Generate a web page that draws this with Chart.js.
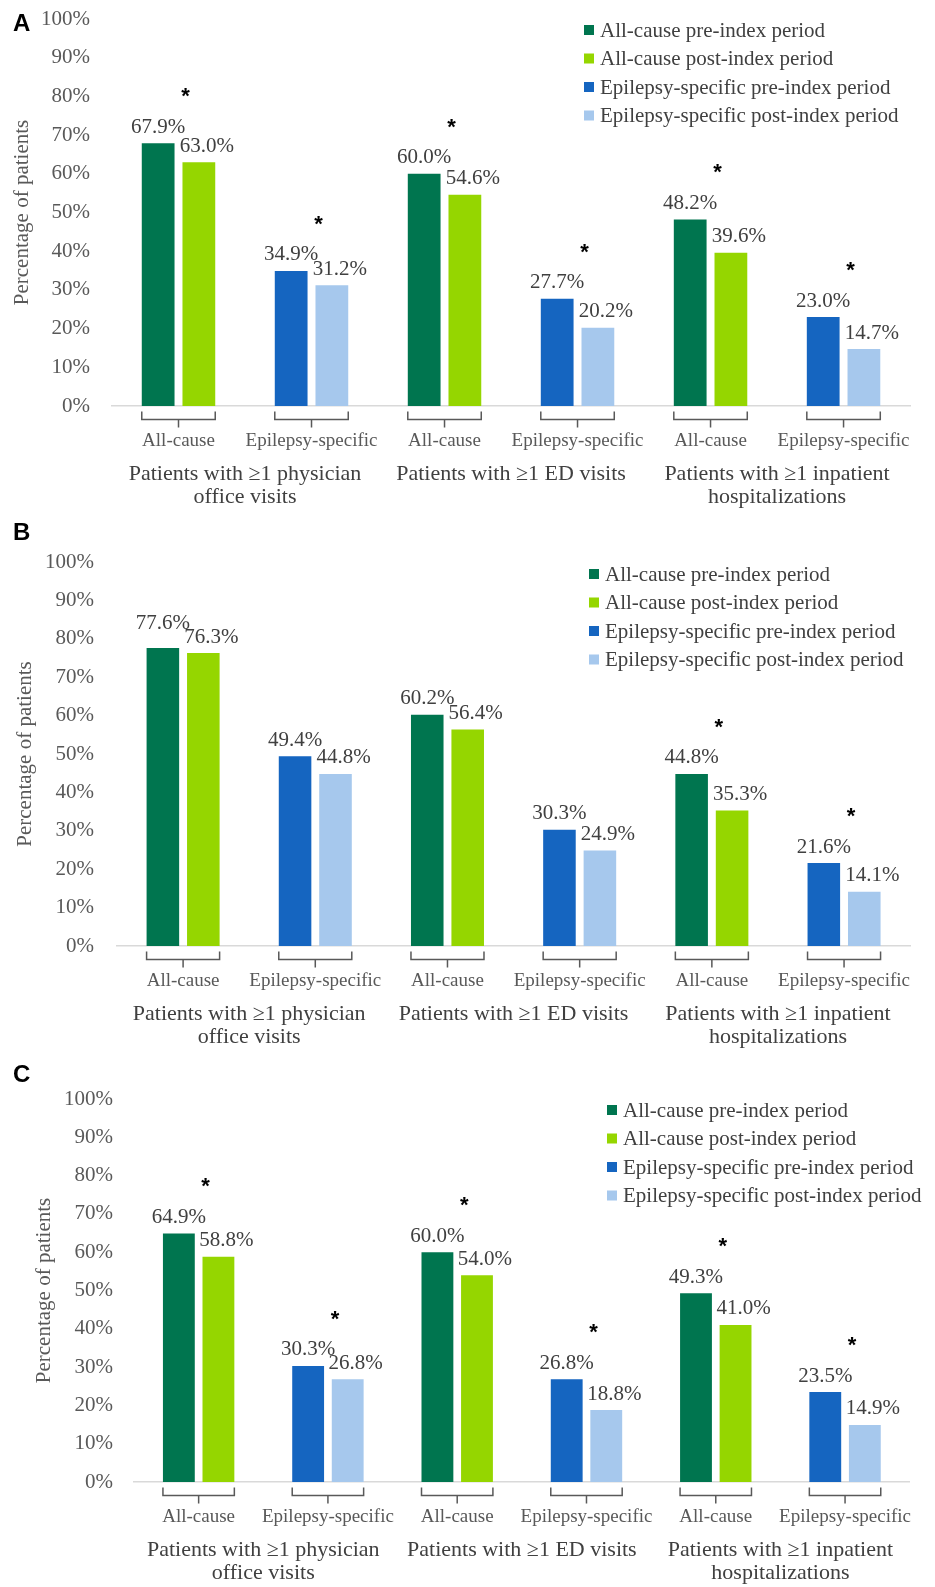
<!DOCTYPE html>
<html>
<head>
<meta charset="utf-8">
<script src="https://cdn.jsdelivr.net/npm/chart.js@4.4.0/dist/chart.umd.min.js"></script>
<style>
  html, body { margin: 0; padding: 0; background: #fff; overflow: hidden; }
  .panel { position: absolute; left: 0; width: 935px; }
  canvas { display: block; }
</style>
</head>
<body>
<div class="panel" style="top:-16px"><canvas id="chart-a" width="935" height="531"></canvas></div>
<div class="panel" style="top:515px"><canvas id="chart-b" width="935" height="543"></canvas></div>
<div class="panel" style="top:1058px"><canvas id="chart-c" width="935" height="529"></canvas></div>
<script>
// Categories under each bracket, and the outcome each pair of brackets belongs to
const subLabels = ["All-cause", "Epilepsy-specific", "All-cause", "Epilepsy-specific", "All-cause", "Epilepsy-specific"];
const groupLabels = [
  ["Patients with \u22651 physician", "office visits"],
  ["Patients with \u22651 ED visits"],
  ["Patients with \u22651 inpatient", "hospitalizations"]
];
const seriesLabels = [
  "All-cause pre-index period",
  "All-cause post-index period",
  "Epilepsy-specific pre-index period",
  "Epilepsy-specific post-index period"
];
const seriesColors = ["#00754f", "#95d600", "#1565c0", "#a6c8ed"];

// y axis
const yMin = 0;
const yMax = 100;
const yStep = 10;

// Panel A
const preA  = [67.9, 34.9, 60.0, 27.7, 48.2, 23.0];
const postA = [63.0, 31.2, 54.6, 20.2, 39.6, 14.7];
const sigA  = [true, true, true, true, true, true];

// Panel B
const preB  = [77.6, 49.4, 60.2, 30.3, 44.8, 21.6];
const postB = [76.3, 44.8, 56.4, 24.9, 35.3, 14.1];
const sigB  = [false, false, false, false, true, true];

// Panel C
const preC  = [64.9, 30.3, 60.0, 26.8, 49.3, 23.5];
const postC = [58.8, 26.8, 54.0, 18.8, 41.0, 14.9];
const sigC  = [true, true, true, true, true, true];

const SERIF = '"Liberation Serif", "Times New Roman", serif';
const SANS = '"Liberation Sans", Arial, sans-serif';

function fmt(v) {
  return v.toFixed(1) + "%";
}

// Labels, stars, brackets, outcome names, legend and panel letter
const overlayPlugin = {
  id: "overlay",
  afterDatasetsDraw(chart, args, opts) {
    const ctx = chart.ctx;
    const area = chart.chartArea;
    const xs = chart.scales.x;
    const base = area.bottom;
    ctx.save();

    chart.data.labels.forEach((lab, j) => {
      const bars = [];
      chart.data.datasets.forEach((ds, i) => {
        if (ds.data[j] != null) {
          bars.push({ el: chart.getDatasetMeta(i).data[j], v: ds.data[j] });
        }
      });
      if (bars.length < 2) return;
      const a = bars[0], b = bars[1];

      // value labels
      ctx.font = "21px " + SERIF;
      ctx.fillStyle = "#404040";
      ctx.textAlign = "center";
      ctx.textBaseline = "middle";
      const xa = a.el.x, xb = b.el.x + 8;
      let ya = a.el.y - 16;
      const yb = b.el.y - 16;
      const wa = ctx.measureText(fmt(a.v)).width;
      const wb = ctx.measureText(fmt(b.v)).width;
      if (xa + wa / 2 > xb - wb / 2 && Math.abs(ya - yb) < 14) ya = yb - 14;
      ctx.fillText(fmt(a.v), xa, ya);
      ctx.fillText(fmt(b.v), xb, yb);

      // significance star
      if (opts.sig[j]) {
        const top = Math.min(a.el.y, b.el.y);
        ctx.font = "bold 22px " + SANS;
        ctx.fillStyle = "#000";
        ctx.textBaseline = "alphabetic";
        ctx.fillText("*", (a.el.x + b.el.x) / 2 + 7, top - 52 + 12);
      }

      // bracket under the pair
      const l = a.el.x - a.el.width / 2;
      const r = b.el.x + b.el.width / 2;
      const c = xs.getPixelForValue(j);
      ctx.strokeStyle = "#595959";
      ctx.lineWidth = 1.5;
      ctx.beginPath();
      ctx.moveTo(l, base + 5.5);
      ctx.lineTo(l, base + 13.5);
      ctx.lineTo(r, base + 13.5);
      ctx.lineTo(r, base + 5.5);
      ctx.moveTo(c, base + 13.5);
      ctx.lineTo(c, base + 21.5);
      ctx.stroke();
    });

    // outcome names under each pair of brackets
    ctx.font = "22px " + SERIF;
    ctx.fillStyle = "#404040";
    ctx.textAlign = "center";
    ctx.textBaseline = "middle";
    groupLabels.forEach((lines, g) => {
      const x = (xs.getPixelForValue(2 * g) + xs.getPixelForValue(2 * g + 1)) / 2;
      lines.forEach((t, k) => ctx.fillText(t, x, base + 68 + k * 23));
    });

    // legend
    ctx.font = "21px " + SERIF;
    ctx.textAlign = "left";
    chart.data.datasets.forEach((ds, i) => {
      const y = opts.legendTop + i * 28.5;
      ctx.fillStyle = ds.backgroundColor;
      ctx.fillRect(opts.legendLeft, y - 5, 10, 10);
      ctx.fillStyle = "#404040";
      ctx.fillText(ds.label, opts.legendLeft + 16, y + 1);
    });

    // panel letter
    ctx.font = "bold 24px " + SANS;
    ctx.fillStyle = "#000";
    ctx.textAlign = "left";
    ctx.fillText(opts.letter, 13, opts.letterY);

    ctx.restore();
  }
};

function makeDatasets(pre, post) {
  return seriesLabels.map((label, s) => {
    const epi = s >= 2 ? 1 : 0;
    const vals = s % 2 === 0 ? pre : post;
    return {
      label,
      data: vals.map((v, j) => (j % 2 === epi ? v : null)),
      backgroundColor: seriesColors[s],
      borderWidth: 0,
      skipNull: true,
      barPercentage: 0.805,
      categoryPercentage: 0.612,
    };
  });
}

function makePanel(id, pre, post, sig, p) {
  return new Chart(document.getElementById(id), {
    type: "bar",
    data: {
      labels: subLabels,
      datasets: makeDatasets(pre, post)
    },
    options: {
      responsive: false,
      animation: false,
      layout: {
        padding: { top: p.top, right: p.right, left: 0, bottom: 0 }
      },
      scales: {
        x: {
          grid: { display: false, drawTicks: false },
          border: { display: true, color: "#d9d9d9", width: 1.5 },
          ticks: {
            autoSkip: false,
            maxRotation: 0,
            padding: 24,
            color: "#595959",
            font: { family: SERIF, size: 19 }
          },
          afterFit: (scale) => { scale.height = p.xHeight; }
        },
        y: {
          min: yMin,
          max: yMax,
          grid: { display: false, drawTicks: false },
          border: { display: false },
          ticks: {
            stepSize: yStep,
            padding: p.tickPad,
            color: "#595959",
            font: { family: SERIF, size: 21 },
            callback: (v) => v + "%"
          },
          title: {
            display: true,
            text: "Percentage of patients",
            color: "#595959",
            font: { family: SERIF, size: 21 },
            padding: { top: p.titlePad, bottom: 0 }
          },
          afterFit: (scale) => { scale.width = p.yWidth; }
        }
      },
      plugins: {
        legend: { display: false },
        tooltip: { enabled: false },
        overlay: {
          sig,
          letter: p.letter,
          letterY: p.letterY,
          legendLeft: p.legendLeft,
          legendTop: p.legendTop
        }
      }
    },
    plugins: [overlayPlugin]
  });
}

makePanel("chart-a", preA, postA, sigA, {
  letter: "A", letterY: 40, top: 35, right: 18, yWidth: 112, xHeight: 109,
  tickPad: 22, titlePad: 10, legendLeft: 584, legendTop: 46
});
makePanel("chart-b", preB, postB, sigB, {
  letter: "B", letterY: 18, top: 47, right: 12, yWidth: 117, xHeight: 112,
  tickPad: 23, titlePad: 13, legendLeft: 589, legendTop: 59
});
makePanel("chart-c", preC, postC, sigC, {
  letter: "C", letterY: 17, top: 41, right: 0, yWidth: 134, xHeight: 105,
  tickPad: 21, titlePad: 32, legendLeft: 607, legendTop: 52
});
</script>
</body>
</html>
